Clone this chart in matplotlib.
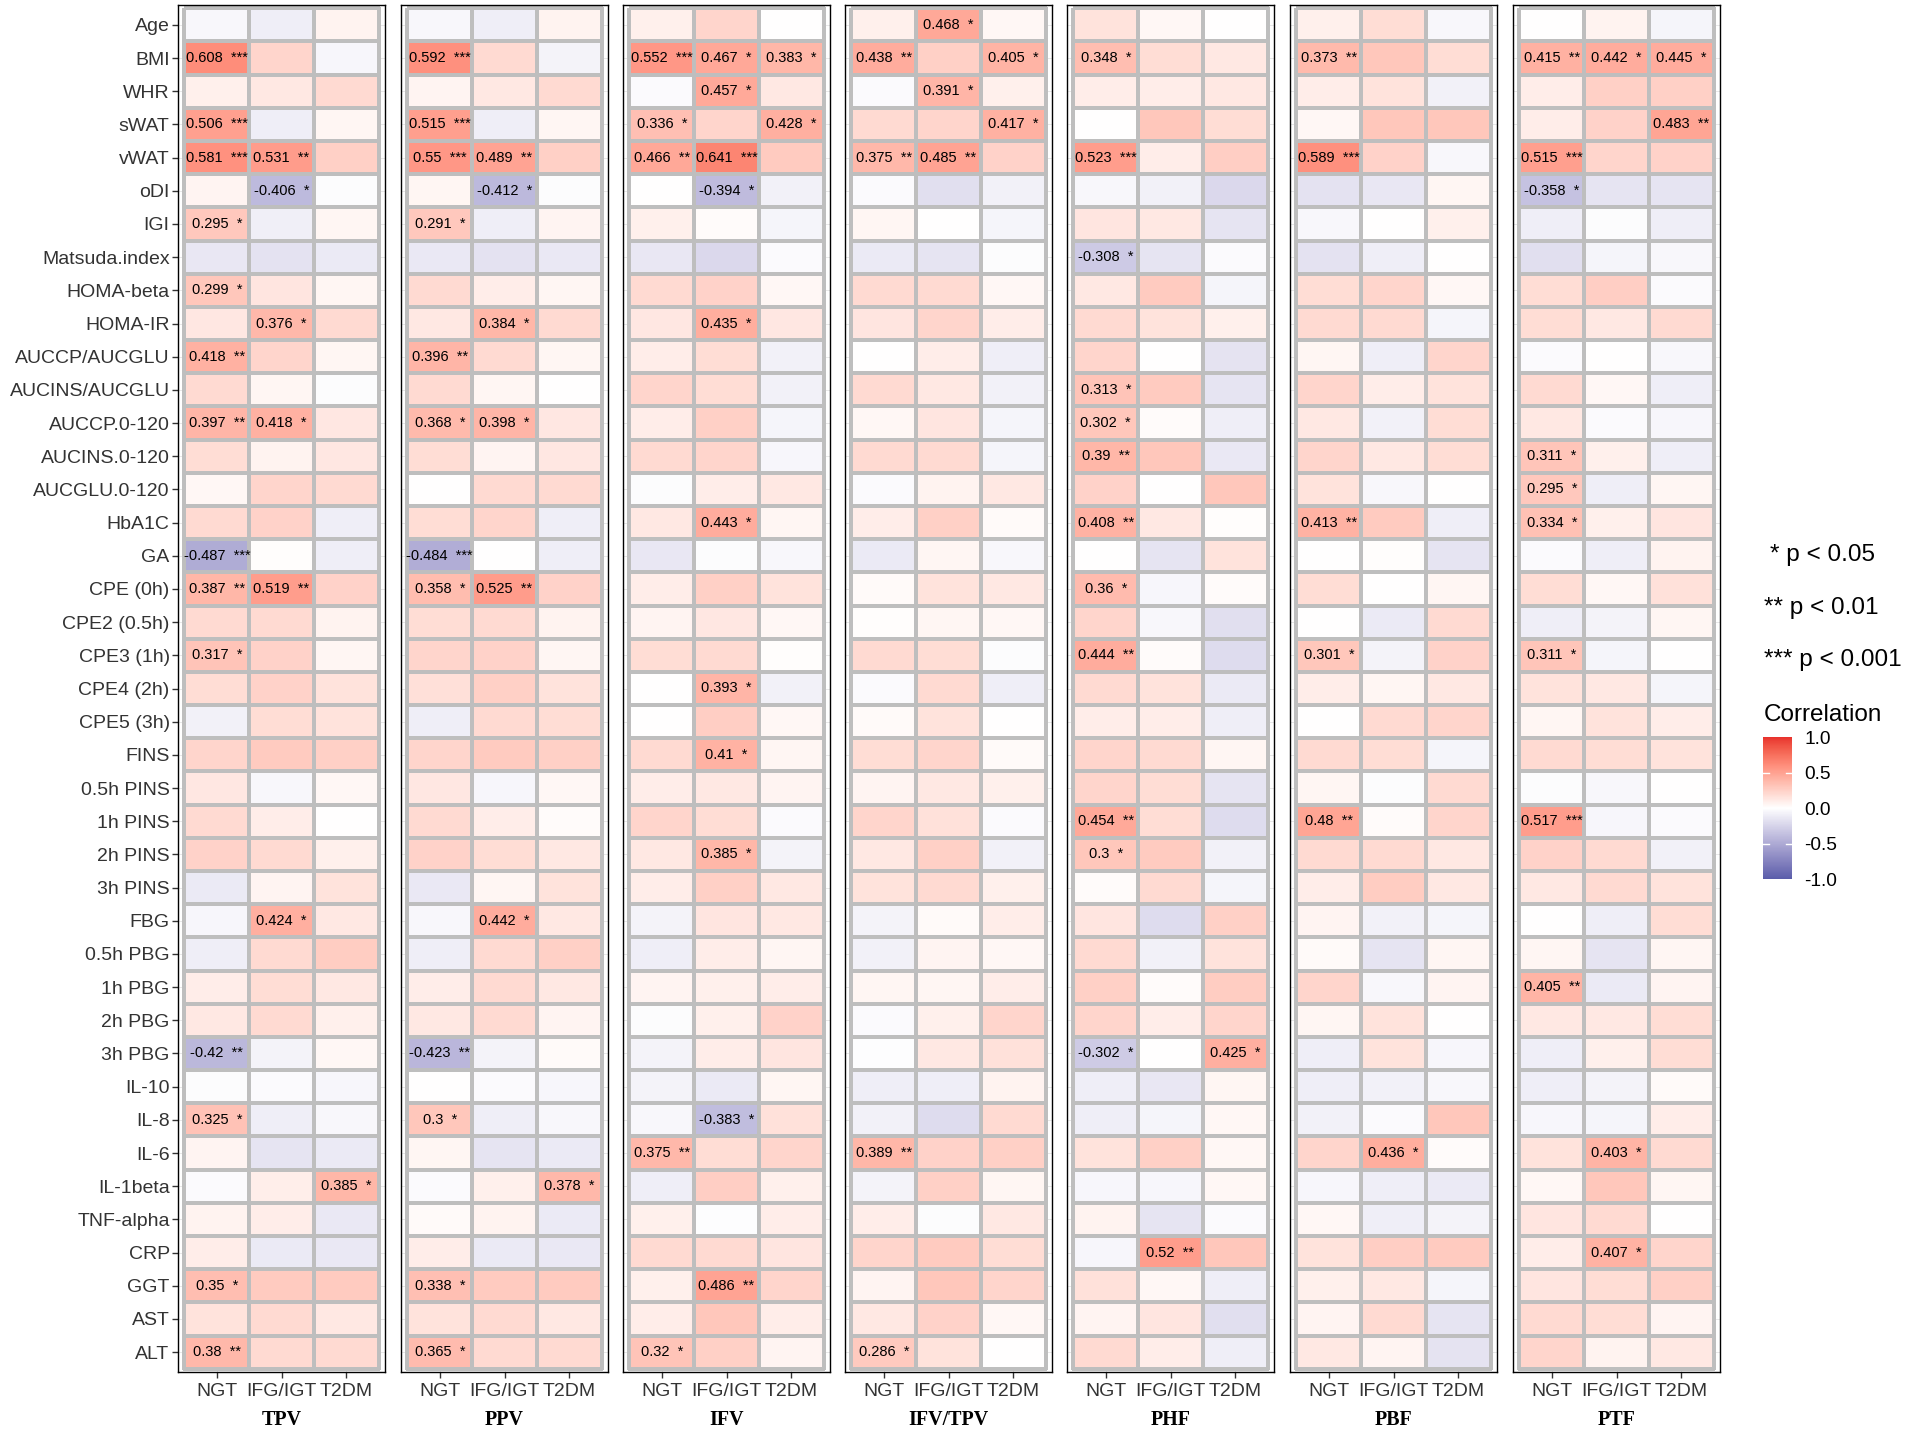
import numpy as np
import matplotlib
matplotlib.use("Agg")
import matplotlib.pyplot as plt
from matplotlib.colors import ListedColormap, Normalize, to_rgb
from matplotlib.cm import ScalarMappable

plt.rcParams['font.family'] = ['Liberation Sans', 'DejaVu Sans']

rows = ["Age", "BMI", "WHR", "sWAT", "vWAT", "oDI", "IGI", "Matsuda.index", "HOMA-beta",
        "HOMA-IR", "AUCCP/AUCGLU", "AUCINS/AUCGLU", "AUCCP.0-120", "AUCINS.0-120",
        "AUCGLU.0-120", "HbA1C", "GA", "CPE (0h)", "CPE2 (0.5h)", "CPE3 (1h)", "CPE4 (2h)",
        "CPE5 (3h)", "FINS", "0.5h PINS", "1h PINS", "2h PINS", "3h PINS", "FBG",
        "0.5h PBG", "1h PBG", "2h PBG", "3h PBG", "IL-10", "IL-8", "IL-6", "IL-1beta",
        "TNF-alpha", "CRP", "GGT", "AST", "ALT"]
groups = ["NGT", "IFG/IGT", "T2DM"]
panels = ["TPV", "PPV", "IFV", "IFV/TPV", "PHF", "PBF", "PTF"]

TPV_NGT = [-0.04, 0.608, 0.08, 0.506, 0.581, 0.06, 0.295, -0.14, 0.299, 0.13, 0.418, 0.20, 0.397, 0.18, 0.04, 0.20, -0.487, 0.387, 0.20, 0.317, 0.18, -0.08, 0.22, 0.13, 0.20, 0.24, -0.12, -0.05, -0.10, 0.10, 0.12, -0.42, -0.02, 0.325, 0.06, -0.03, 0.07, 0.10, 0.35, 0.15, 0.38]
TPV_IFG = [-0.10, 0.22, 0.12, -0.10, 0.531, -0.406, -0.09, -0.17, 0.14, 0.376, 0.22, 0.05, 0.418, 0.07, 0.22, 0.24, 0.01, 0.519, 0.20, 0.24, 0.24, 0.18, 0.28, -0.04, 0.10, 0.20, 0.06, 0.424, 0.20, 0.18, 0.20, -0.07, -0.03, -0.10, -0.15, 0.09, 0.10, -0.12, 0.28, 0.20, 0.20]
TPV_T2DM = [0.07, -0.05, 0.20, 0.05, 0.25, -0.02, 0.05, -0.12, 0.05, 0.20, 0.05, -0.02, 0.13, 0.13, 0.20, -0.10, -0.10, 0.24, 0.07, 0.05, 0.15, 0.15, 0.25, 0.04, 0.00, 0.08, 0.15, 0.12, 0.27, 0.12, 0.08, 0.04, -0.05, -0.04, -0.12, 0.385, -0.13, -0.13, 0.28, 0.12, 0.20]

PPV_NGT = [-0.04, 0.592, 0.06, 0.515, 0.55, 0.05, 0.291, -0.13, 0.20, 0.12, 0.396, 0.20, 0.368, 0.18, 0.00, 0.18, -0.484, 0.358, 0.18, 0.22, 0.17, -0.10, 0.22, 0.13, 0.20, 0.24, -0.13, -0.04, -0.10, 0.10, 0.12, -0.423, 0.00, 0.30, 0.05, -0.03, 0.03, 0.10, 0.338, 0.15, 0.365]
PPV_IFG = [-0.10, 0.20, 0.12, -0.10, 0.489, -0.412, -0.10, -0.17, 0.10, 0.384, 0.20, 0.05, 0.398, 0.06, 0.20, 0.22, 0.00, 0.525, 0.20, 0.24, 0.25, 0.20, 0.28, -0.05, 0.10, 0.18, 0.05, 0.442, 0.20, 0.20, 0.20, -0.07, -0.03, -0.10, -0.15, 0.08, 0.07, -0.12, 0.28, 0.20, 0.20]
PPV_T2DM = [0.07, -0.07, 0.20, 0.05, 0.25, -0.02, 0.06, -0.13, 0.05, 0.20, 0.05, 0.00, 0.13, 0.13, 0.20, -0.10, -0.10, 0.24, 0.07, 0.05, 0.15, 0.18, 0.25, 0.04, 0.02, 0.12, 0.15, 0.12, 0.25, 0.12, 0.06, 0.03, -0.05, -0.04, -0.12, 0.378, -0.12, -0.13, 0.28, 0.12, 0.20]

IFV_NGT = [0.08, 0.552, -0.03, 0.336, 0.466, 0.00, 0.08, -0.14, 0.20, 0.13, 0.10, 0.22, 0.10, 0.20, -0.02, 0.12, -0.14, 0.10, 0.06, 0.18, 0.00, 0.00, 0.20, 0.10, 0.22, 0.12, 0.10, -0.07, -0.10, 0.06, -0.02, -0.07, -0.07, -0.04, 0.375, -0.10, 0.08, 0.20, 0.08, 0.10, 0.32]
IFV_IFG = [0.22, 0.467, 0.457, 0.22, 0.641, -0.394, 0.02, -0.22, 0.24, 0.435, 0.18, 0.18, 0.25, 0.22, 0.10, 0.443, -0.02, 0.25, 0.13, 0.20, 0.393, 0.26, 0.41, 0.12, 0.18, 0.385, 0.25, 0.14, 0.10, 0.08, 0.08, 0.10, -0.12, -0.383, 0.18, 0.26, -0.01, 0.20, 0.486, 0.30, 0.25]
IFV_T2DM = [0.00, 0.383, 0.12, 0.428, 0.28, -0.08, -0.06, -0.03, 0.04, 0.13, -0.08, -0.08, -0.06, -0.05, 0.12, 0.05, -0.04, 0.15, 0.04, 0.01, -0.08, 0.04, 0.05, 0.06, -0.03, -0.07, 0.12, 0.12, 0.05, 0.10, 0.24, 0.14, 0.05, 0.16, 0.22, 0.08, 0.10, 0.14, 0.22, 0.10, 0.06]

IFVTPV_NGT = [0.08, 0.438, -0.03, 0.20, 0.375, -0.03, 0.05, -0.12, 0.20, 0.14, 0.00, 0.20, 0.04, 0.20, -0.03, 0.10, -0.12, 0.03, 0.01, 0.20, -0.03, 0.03, 0.18, 0.06, 0.22, 0.12, 0.15, -0.07, -0.08, 0.05, -0.03, -0.01, -0.10, -0.08, 0.389, -0.07, 0.10, 0.22, 0.06, 0.12, 0.286]
IFVTPV_IFG = [0.468, 0.25, 0.391, 0.22, 0.485, -0.18, 0.00, -0.15, 0.20, 0.22, 0.10, 0.12, 0.14, 0.20, 0.07, 0.25, 0.05, 0.15, 0.05, 0.18, 0.20, 0.15, 0.22, 0.12, 0.16, 0.25, 0.20, 0.03, 0.06, 0.05, 0.08, 0.12, -0.10, -0.20, 0.24, 0.25, -0.02, 0.28, 0.30, 0.24, 0.15]
IFVTPV_T2DM = [0.04, 0.405, 0.08, 0.417, 0.24, -0.08, -0.06, -0.02, 0.04, 0.10, -0.10, -0.08, -0.06, -0.06, 0.12, 0.03, -0.04, 0.12, 0.04, -0.02, -0.10, 0.00, 0.03, 0.08, -0.03, -0.08, 0.08, 0.10, 0.04, 0.10, 0.22, 0.16, 0.07, 0.20, 0.25, 0.05, 0.12, 0.18, 0.22, 0.04, 0.00]

PHF_NGT = [0.15, 0.348, 0.10, 0.00, 0.523, -0.04, 0.14, -0.308, 0.12, 0.20, 0.22, 0.313, 0.302, 0.39, 0.24, 0.408, 0.00, 0.36, 0.22, 0.444, 0.20, 0.10, 0.22, 0.22, 0.454, 0.30, 0.02, 0.14, 0.20, 0.25, 0.22, -0.302, -0.10, -0.10, 0.15, -0.05, 0.07, -0.05, 0.16, 0.06, 0.20]
PHF_IFG = [0.04, 0.18, 0.10, 0.30, 0.10, -0.08, 0.12, -0.15, 0.28, 0.15, 0.00, 0.28, 0.02, 0.30, 0.00, 0.12, -0.15, -0.05, -0.04, 0.02, 0.15, 0.10, 0.20, 0.18, 0.18, 0.28, 0.20, -0.20, -0.08, 0.02, 0.10, 0.00, -0.14, -0.06, 0.25, -0.05, -0.15, 0.52, 0.04, 0.14, 0.10]
PHF_T2DM = [0.00, 0.12, 0.12, 0.18, 0.26, -0.22, -0.15, -0.03, -0.06, 0.08, -0.16, -0.15, -0.10, -0.13, 0.30, 0.01, 0.15, 0.02, -0.18, -0.20, -0.12, -0.10, 0.05, -0.15, -0.20, -0.08, -0.06, 0.25, 0.15, 0.27, 0.22, 0.425, 0.05, 0.04, 0.04, 0.04, -0.03, 0.30, -0.10, -0.18, -0.10]

PBF_NGT = [0.08, 0.373, 0.10, 0.04, 0.589, -0.17, -0.04, -0.17, 0.18, 0.20, 0.05, 0.22, 0.12, 0.22, 0.15, 0.413, 0.00, 0.18, 0.00, 0.301, 0.10, 0.00, 0.20, 0.05, 0.48, 0.20, 0.10, 0.06, 0.03, 0.22, 0.05, -0.10, -0.10, -0.08, 0.22, -0.05, 0.04, 0.15, 0.08, 0.06, 0.12]
PBF_IFG = [0.18, 0.30, 0.15, 0.30, 0.24, -0.14, 0.00, -0.10, 0.22, 0.20, -0.10, 0.10, -0.08, 0.12, -0.04, 0.28, 0.01, 0.00, -0.12, -0.07, 0.05, 0.20, 0.18, -0.02, 0.02, 0.20, 0.27, -0.08, -0.15, -0.04, 0.15, 0.15, -0.08, -0.03, 0.436, -0.10, -0.10, 0.26, 0.12, 0.20, 0.06]
PBF_T2DM = [-0.04, 0.18, -0.08, 0.30, -0.04, 0.05, 0.08, 0.00, 0.04, -0.06, 0.22, 0.15, 0.18, 0.18, 0.00, -0.10, -0.15, 0.05, 0.20, 0.24, 0.12, 0.22, -0.06, 0.20, 0.22, 0.12, 0.12, -0.06, 0.05, 0.06, 0.00, -0.05, -0.04, 0.30, 0.02, -0.12, -0.07, 0.28, -0.06, -0.15, -0.16]

PTF_NGT = [0.00, 0.415, 0.10, 0.10, 0.515, -0.358, -0.10, -0.18, 0.18, 0.18, -0.03, 0.20, 0.12, 0.311, 0.295, 0.334, -0.03, 0.18, -0.10, 0.311, 0.15, 0.05, 0.20, -0.02, 0.517, 0.24, 0.12, 0.00, 0.05, 0.405, 0.12, -0.10, -0.10, -0.05, 0.15, 0.04, 0.14, 0.10, 0.14, 0.20, 0.22]
PTF_IFG = [0.07, 0.442, 0.25, 0.24, 0.22, -0.15, -0.02, -0.06, 0.26, 0.12, 0.00, 0.04, -0.03, 0.08, -0.10, 0.08, -0.10, 0.04, -0.07, -0.06, 0.12, 0.15, 0.18, -0.04, -0.05, 0.20, 0.20, -0.10, -0.15, -0.12, 0.12, 0.08, -0.07, -0.06, 0.403, 0.30, 0.20, 0.407, 0.18, 0.18, 0.07]
PTF_T2DM = [-0.06, 0.445, 0.25, 0.483, 0.24, -0.15, -0.10, -0.04, -0.03, 0.20, -0.04, -0.10, -0.05, -0.10, 0.05, 0.14, 0.07, 0.16, 0.05, 0.00, -0.06, 0.10, 0.15, 0.00, -0.03, -0.08, 0.15, 0.18, 0.05, 0.06, 0.18, 0.18, 0.03, 0.10, 0.20, 0.05, 0.00, 0.22, 0.25, 0.06, 0.12]

# significance stars: row -> (NGT, IFG/IGT, T2DM)
TPV_stars = {"BMI": (3, 0, 0), "sWAT": (3, 0, 0), "vWAT": (3, 2, 0), "oDI": (0, 1, 0),
             "IGI": (1, 0, 0), "HOMA-beta": (1, 0, 0), "HOMA-IR": (0, 1, 0),
             "AUCCP/AUCGLU": (2, 0, 0), "AUCCP.0-120": (2, 1, 0), "GA": (3, 0, 0),
             "CPE (0h)": (2, 2, 0), "CPE3 (1h)": (1, 0, 0), "FBG": (0, 1, 0),
             "3h PBG": (2, 0, 0), "IL-8": (1, 0, 0), "IL-1beta": (0, 0, 1),
             "GGT": (1, 0, 0), "ALT": (2, 0, 0)}
PPV_stars = {"BMI": (3, 0, 0), "sWAT": (3, 0, 0), "vWAT": (3, 2, 0), "oDI": (0, 1, 0),
             "IGI": (1, 0, 0), "HOMA-IR": (0, 1, 0), "AUCCP/AUCGLU": (2, 0, 0),
             "AUCCP.0-120": (1, 1, 0), "GA": (3, 0, 0), "CPE (0h)": (1, 2, 0),
             "FBG": (0, 1, 0), "3h PBG": (2, 0, 0), "IL-8": (1, 0, 0),
             "IL-1beta": (0, 0, 1), "GGT": (1, 0, 0), "ALT": (1, 0, 0)}
IFV_stars = {"BMI": (3, 1, 1), "WHR": (0, 1, 0), "sWAT": (1, 0, 1), "vWAT": (2, 3, 0),
             "oDI": (0, 1, 0), "HOMA-IR": (0, 1, 0), "HbA1C": (0, 1, 0),
             "CPE4 (2h)": (0, 1, 0), "FINS": (0, 1, 0), "2h PINS": (0, 1, 0),
             "IL-8": (0, 1, 0), "IL-6": (2, 0, 0), "GGT": (0, 2, 0), "ALT": (1, 0, 0)}
IFVTPV_stars = {"Age": (0, 1, 0), "BMI": (2, 0, 1), "WHR": (0, 1, 0), "sWAT": (0, 0, 1),
                "vWAT": (2, 2, 0), "IL-6": (2, 0, 0), "ALT": (1, 0, 0)}
PHF_stars = {"BMI": (1, 0, 0), "vWAT": (3, 0, 0), "Matsuda.index": (1, 0, 0),
             "AUCINS/AUCGLU": (1, 0, 0), "AUCCP.0-120": (1, 0, 0),
             "AUCINS.0-120": (2, 0, 0), "HbA1C": (2, 0, 0), "CPE (0h)": (1, 0, 0),
             "CPE3 (1h)": (2, 0, 0), "1h PINS": (2, 0, 0), "2h PINS": (1, 0, 0),
             "3h PBG": (1, 0, 1), "CRP": (0, 2, 0)}
PBF_stars = {"BMI": (2, 0, 0), "vWAT": (3, 0, 0), "HbA1C": (2, 0, 0),
             "CPE3 (1h)": (1, 0, 0), "1h PINS": (2, 0, 0), "IL-6": (0, 1, 0)}
PTF_stars = {"BMI": (2, 1, 1), "sWAT": (0, 0, 2), "vWAT": (3, 0, 0), "oDI": (1, 0, 0),
             "AUCINS.0-120": (1, 0, 0), "AUCGLU.0-120": (1, 0, 0), "HbA1C": (1, 0, 0),
             "CPE3 (1h)": (1, 0, 0), "1h PINS": (3, 0, 0), "1h PBG": (2, 0, 0),
             "IL-6": (0, 1, 0), "CRP": (0, 1, 0)}

data = {"TPV": (TPV_NGT, TPV_IFG, TPV_T2DM),
        "PPV": (PPV_NGT, PPV_IFG, PPV_T2DM),
        "IFV": (IFV_NGT, IFV_IFG, IFV_T2DM),
        "IFV/TPV": (IFVTPV_NGT, IFVTPV_IFG, IFVTPV_T2DM),
        "PHF": (PHF_NGT, PHF_IFG, PHF_T2DM),
        "PBF": (PBF_NGT, PBF_IFG, PBF_T2DM),
        "PTF": (PTF_NGT, PTF_IFG, PTF_T2DM)}
stars = {"TPV": TPV_stars, "PPV": PPV_stars, "IFV": IFV_stars, "IFV/TPV": IFVTPV_stars,
         "PHF": PHF_stars, "PBF": PBF_stars, "PTF": PTF_stars}


# --- diverging colour scale interpolated in CIELAB (like ggplot's gradient2) ---
def srgb_to_lab(rgb):
    rgb = np.asarray(rgb, float)
    lin = np.where(rgb <= 0.04045, rgb / 12.92, ((rgb + 0.055) / 1.055) ** 2.4)
    Mx = np.array([[0.4124, 0.3576, 0.1805], [0.2126, 0.7152, 0.0722], [0.0193, 0.1192, 0.9505]])
    xyz = Mx @ lin / np.array([0.95047, 1.0, 1.08883])
    f = np.where(xyz > 0.008856, np.cbrt(xyz), 7.787 * xyz + 16 / 116)
    return np.array([116 * f[1] - 16, 500 * (f[0] - f[1]), 200 * (f[1] - f[2])])


def lab_to_srgb(lab):
    L, a, b = lab
    fy = (L + 16) / 116
    fx = fy + a / 500
    fz = fy - b / 200
    f = np.array([fx, fy, fz])
    xyz = np.where(f ** 3 > 0.008856, f ** 3, (f - 16 / 116) / 7.787) * np.array([0.95047, 1.0, 1.08883])
    Mi = np.array([[3.2406, -1.5372, -0.4986], [-0.9689, 1.8758, 0.0415], [0.0557, -0.2040, 1.0570]])
    lin = Mi @ xyz
    rgb = np.where(lin <= 0.0031308, 12.92 * lin, 1.055 * np.clip(lin, 0, None) ** (1 / 2.4) - 0.055)
    return np.clip(rgb, 0, 1)


low_col, mid_col, high_col = "#5A5DAA", "#FFFFFF", "#E8322D"
lab_lo, lab_mid, lab_hi = (srgb_to_lab(to_rgb(c)) for c in (low_col, mid_col, high_col))
cols = []
for t in np.linspace(-1, 1, 256):
    if t < 0:
        lab = lab_mid + (lab_lo - lab_mid) * (-t)
    else:
        lab = lab_mid + (lab_hi - lab_mid) * t
    cols.append(lab_to_srgb(lab))
cmap = ListedColormap(cols)
norm = Normalize(-1, 1)

W, H = 1907, 1430
fig = plt.figure(figsize=(W / 100, H / 100), dpi=100)
fig.patch.set_facecolor("white")

lefts = [178, 401, 623, 845, 1067, 1290, 1513]
pw = 207
ptop, pbot = 5, 1372
nrow = len(rows)
txt_col = "#333333"

for i, p in enumerate(panels):
    ax = fig.add_axes([lefts[i] / W, 1 - pbot / H, pw / W, (pbot - ptop) / H])
    M = np.array(data[p]).T
    ax.pcolormesh(np.arange(0.5, 3.6, 1), np.arange(0.5, nrow + 0.6, 1), M,
                  cmap=cmap, norm=norm, edgecolors="#BEBEBE", linewidth=1.6, zorder=2)
    ax.set_xlim(0.4, 3.6)
    ax.set_ylim(nrow + 0.6, 0.4)
    for rname, st in stars[p].items():
        r = rows.index(rname)
        for c in range(3):
            if st[c] > 0:
                ax.text(c + 1, r + 1, f"{M[r, c]:g}  " + "*" * st[c], ha="center",
                        va="center", fontsize=10.5, color="black", zorder=3)
    ax.set_xticks([1, 2, 3])
    ax.set_xticklabels(groups, fontsize=14, color=txt_col)
    ax.set_yticks(np.arange(1, nrow + 1))
    if i == 0:
        ax.set_yticklabels(rows, fontsize=14, color=txt_col)
        ax.tick_params(axis="y", length=4, width=1, color="#333333", pad=2)
    else:
        ax.set_yticklabels([])
        ax.tick_params(axis="y", length=0)
    ax.tick_params(axis="x", length=4, width=1, color="#333333", pad=4)
    ax.grid(True, color="#E8E8E8", linewidth=0.7, zorder=0)
    ax.set_axisbelow(True)
    for s in ax.spines.values():
        s.set_linewidth(1.0)
        s.set_color("black")
    cx = (lefts[i] + pw / 2) / W
    fig.text(cx, 1 - 1420 / H, p, ha="center", va="center", fontsize=14.4,
             fontweight="bold", family="Liberation Serif", color="black")

# significance legend
fig.text(1770 / W, 1 - 555 / H, "* p < 0.05", ha="left", va="center", fontsize=17.5)
fig.text(1764 / W, 1 - 608 / H, "** p < 0.01", ha="left", va="center", fontsize=17.5)
fig.text(1764 / W, 1 - 660 / H, "*** p < 0.001", ha="left", va="center", fontsize=17.5)
fig.text(1764 / W, 1 - 715 / H, "Correlation", ha="left", va="center", fontsize=17.5)

cax = fig.add_axes([1763 / W, 1 - 879 / H, 29 / W, 142 / H])
cb = fig.colorbar(ScalarMappable(norm=norm, cmap=cmap), cax=cax)
cb.outline.set_visible(False)
cb.set_ticks([-1, -0.5, 0, 0.5, 1])
cb.set_ticklabels(["-1.0", "-0.5", "0.0", "0.5", "1.0"])
cax.tick_params(length=0, labelsize=13.8, pad=9, colors="black")
for v in [-0.5, 0, 0.5]:
    cax.axhline(v, xmin=0, xmax=0.2, color="white", linewidth=1)
    cax.axhline(v, xmin=0.8, xmax=1, color="white", linewidth=1)

fig.savefig("out.png", dpi=100, facecolor="white")
